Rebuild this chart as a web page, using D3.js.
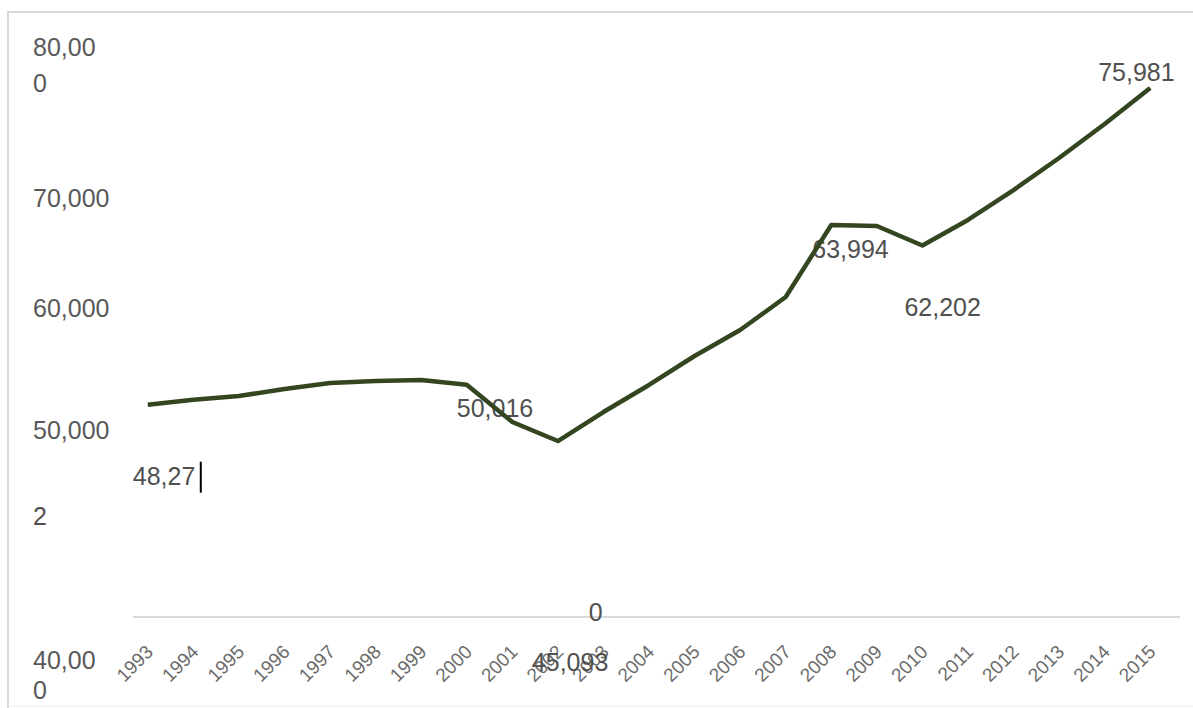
<!DOCTYPE html>
<html>
<head>
<meta charset="utf-8">
<script src="https://cdn.jsdelivr.net/npm/d3@7/dist/d3.min.js"></script>
<style>
  body { margin: 0; background: #fff; }
  svg { display: block; font-family: "Liberation Sans", Arial, sans-serif; }
</style>
</head>
<body>
<svg id="chart"></svg>
<script>
// data
const years = d3.range(1993, 2016);
const values = [48272, 48700, 49030, 49650, 50170, 50350, 50430, 50016, 46760, 45093,
  47630, 50000, 52530, 54810, 57690, 63994, 63900, 62202, 64430, 67050, 69850, 72830, 75981];

const yTicks = [40000, 50000, 60000, 70000, 80000];
const yTickText = [["40,00", "0"], ["50,000"], ["60,000"], ["70,000"], ["80,00", "0"]];

const labelYears = [1993, 2000, 2002, 2008, 2010, 2015];
const labelText = ["48,27", "50,016", "45,093", "63,994", "62,202", "75,981"];

const width = 1193, height = 708;
const lineColor = "#334620";

const svg = d3.select("#chart").attr("width", width).attr("height", height);

const xScale = d3.scalePoint().domain(years).range([125, 1173]).padding(0.5);
const yScale = d3.scaleLinear().domain([29700, 80000]).range([617, 42]);
// the tick labels of the picture sit off the data scale
const tickScale = d3.scaleLinear().domain(yTicks).range([660, 430, 308, 198, 47]);

// frame
svg.append("path")
  .attr("d", `M8,${height} V12 H${width}`)
  .attr("fill", "none").attr("stroke", "#d9d9d9").attr("stroke-width", 2);
svg.append("line")
  .attr("x1", 8).attr("x2", width).attr("y1", 706).attr("y2", 706)
  .attr("stroke", "#ececec").attr("stroke-width", 1);

// x axis
const xAxis = d3.axisBottom(xScale).tickSize(0).tickPadding(0);
const gx = svg.append("g")
  .attr("transform", `translate(0, ${yScale(29700)})`)
  .call(xAxis);
gx.select(".domain").attr("stroke", "#d9d9d9").attr("stroke-width", 2)
  .attr("d", `M133,0 H1180`);
gx.selectAll(".tick text")
  .attr("font-size", 19)
  .attr("fill", "#6b6b6b")
  .attr("text-anchor", "end")
  .attr("y", 0).attr("dy", 0)
  .attr("transform", "translate(6, 36) rotate(-45)");

// y axis labels
const yAxis = d3.axisLeft(tickScale).tickValues(yTicks).tickSize(0).tickFormat("");
const gy = svg.append("g").attr("transform", "translate(33, 0)").call(yAxis);
gy.select(".domain").remove();
gy.selectAll(".tick text").remove();
gy.selectAll(".tick").each(function (d, i) {
  const t = d3.select(this).append("text")
    .attr("font-size", 25)
    .attr("fill", "#595959")
    .attr("text-anchor", "start");
  const gap = d === 80000 ? 36 : 30;
  yTickText[i].forEach((s, j) => {
    t.append("tspan").attr("x", 0).attr("y", j * gap).attr("dy", "0.35em").text(s);
  });
});

// data labels (drawn under the line)
const labelOffset = {
  1993: [-15, 72], 2000: [-10, 23], 2002: [-26, 221],
  2008: [-19, 24], 2010: [-18, 62], 2015: [-52, -16]
};
const labels = svg.append("g")
  .attr("font-size", 25)
  .attr("fill", "#505050");
labelYears.forEach((yr, i) => {
  const v = values[years.indexOf(yr)];
  labels.append("text")
    .attr("x", xScale(yr) + labelOffset[yr][0])
    .attr("y", yScale(v) + labelOffset[yr][1])
    .attr("dy", "0.35em")
    .text(labelText[i]);
});
// wrapped pieces of the labels
labels.append("text")
  .attr("x", 33).attr("y", yScale(values[0]) + 112).attr("dy", "0.35em").text("2");
labels.append("text")
  .attr("x", xScale(2002) + 31).attr("y", yScale(values[9]) + 171).attr("dy", "0.35em").text("0");
// text cursor after 48,27
svg.append("line")
  .attr("x1", xScale(1993) + 53).attr("x2", xScale(1993) + 53)
  .attr("y1", yScale(values[0]) + 57).attr("y2", yScale(values[0]) + 88)
  .attr("stroke", "#000").attr("stroke-width", 2);

// line
const line = d3.line()
  .x((d, i) => xScale(years[i]))
  .y(d => yScale(d));
svg.append("path")
  .datum(values)
  .attr("d", line)
  .attr("fill", "none")
  .attr("stroke", lineColor)
  .attr("stroke-width", 4.5)
  .attr("stroke-linejoin", "round");
</script>
</body>
</html>
